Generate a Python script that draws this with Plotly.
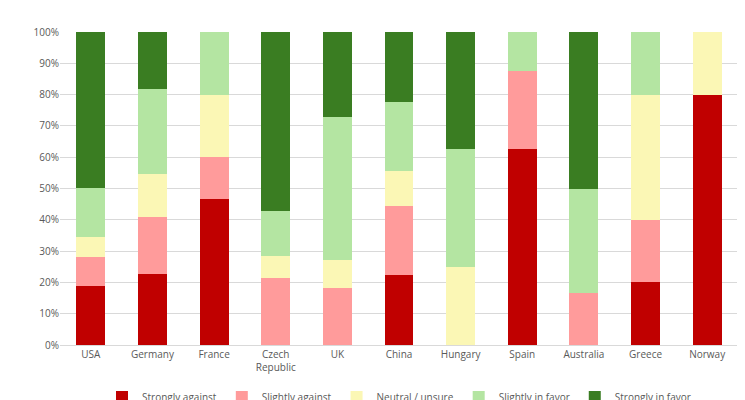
import plotly.graph_objects as go

countries = ["USA", "Germany", "France", "Czech<br>Republic", "UK", "China",
             "Hungary", "Spain", "Australia", "Greece", "Norway"]

# percentages per response category
strongly_against = [18.75, 22.73, 46.67, 0, 0, 22.22, 0, 62.5, 0, 20, 80]
slightly_against = [9.38, 18.18, 13.33, 21.43, 18.18, 22.22, 0, 25, 16.67, 20, 0]
neutral = [6.25, 13.64, 20, 7.14, 9.09, 11.11, 25, 0, 0, 40, 20]
slightly_favor = [15.63, 27.27, 20, 14.29, 45.45, 22.22, 37.5, 12.5, 33.33, 20, 0]
strongly_favor = [50, 18.18, 0, 57.14, 27.27, 22.22, 37.5, 0, 50, 0, 0]

series = [
    ("Strongly against", strongly_against, "#C00000"),
    ("Slightly against", slightly_against, "#FF9B9B"),
    ("Neutral / unsure", neutral, "#FBF7B5"),
    ("Slightly in favor", slightly_favor, "#B4E5A2"),
    ("Strongly in favor", strongly_favor, "#3A7D22"),
]

fig = go.Figure()
for name, vals, color in series:
    fig.add_trace(go.Bar(x=countries, y=vals, name=name, marker_color=color,
                         marker_line_width=0, width=0.47))

fig.update_layout(
    barmode="stack",
    width=745, height=400,
    plot_bgcolor="white", paper_bgcolor="white",
    font=dict(family="Open Sans", size=10, color="#595959"),
    margin=dict(l=52, r=15, t=24, b=63, autoexpand=False),
    legend=dict(orientation="h", x=0.5, xanchor="center", y=-0.166,
                yanchor="middle", font=dict(size=10), traceorder="normal"),
    xaxis=dict(showline=True, linecolor="#D9D9D9", tickfont=dict(size=10)),
    yaxis=dict(range=[0, 100], dtick=10, ticksuffix="%", gridcolor="#D9D9D9",
               zeroline=False),
)

fig.write_html("out.html")
